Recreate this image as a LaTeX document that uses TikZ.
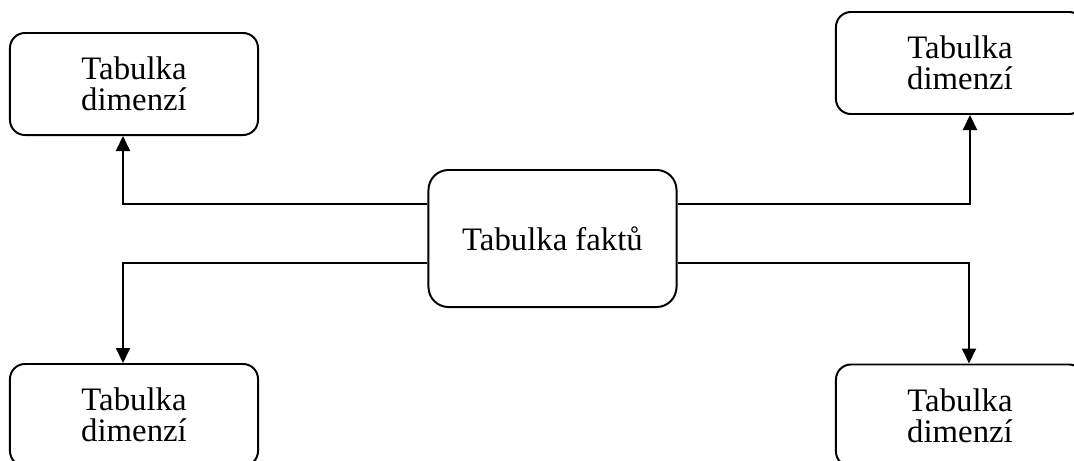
\documentclass[tikz,border=0pt]{standalone}
\usepackage{fontspec}
\setmainfont{Liberation Serif}
\usetikzlibrary{arrows.meta}
\tikzset{>={Triangle[length=0.375cm,width=0.35cm]}}
\tikzset{dimbox/.style={draw, rounded corners=0.375cm, line width=1.4pt,
    minimum width=6.2cm, minimum height=2.55cm, align=center, inner sep=0pt,
    font=\fontsize{23.3}{22.3}\selectfont}}
\tikzset{factbox/.style={dimbox, minimum height=3.425cm, rounded corners=0.5cm}}

\begin{document}
\begin{tikzpicture}[x=0.025cm, y=-0.025cm]
    \useasboundingbox (0,0) rectangle (1074,461);
    \clip (0,0) rectangle (1074,461);
    %nodes
    \node[factbox] (fact) at (552.5,238.5) {Tabulka faktů};
    \node[dimbox] (dimTL) at (134,84) {Tabulka\\dimenzí};
    \node[dimbox] (dimTR) at (960,63) {Tabulka\\dimenzí};
    \node[dimbox] (dimBL) at (134,415) {Tabulka\\dimenzí};
    \node[dimbox] (dimBR) at (960,415.5) {Tabulka\\dimenzí};
    %bends
    \coordinate (tl) at (123,204);
    \coordinate (tr) at (970,204);
    \coordinate (bl) at (123,263);
    \coordinate (br) at (969,263);
    %lines
    \draw [->, line width=1.4pt] (fact.west |- tl) -| (dimTL.south -| tl);
    \draw [->, line width=1.4pt] (fact.east |- tr) -| (dimTR.south -| tr);
    \draw [->, line width=1.4pt] (fact.west |- bl) -| (dimBL.north -| bl);
    \draw [->, line width=1.4pt] (fact.east |- br) -| (dimBR.north -| br);
\end{tikzpicture}
\end{document}
